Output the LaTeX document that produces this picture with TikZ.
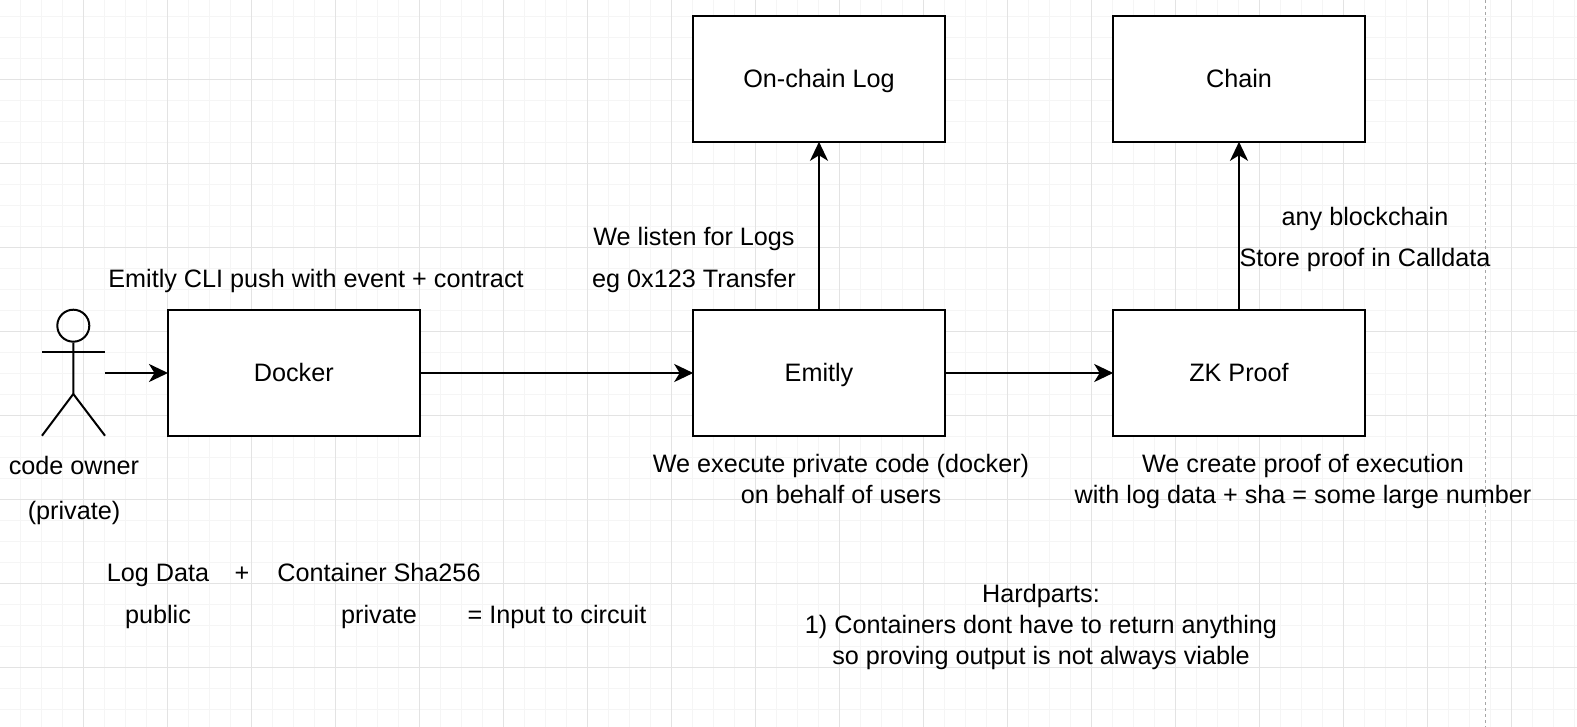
\documentclass[tikz,border=0pt]{standalone}
\usepackage{fontspec}
\setmainfont{Liberation Sans}
\usetikzlibrary{arrows.meta,positioning}

\begin{document}
\begin{tikzpicture}[
        x=1pt,
        y=-1pt,
        wire/.style={line width=2.6pt, shorten >=-1.5pt, -{Stealth[length=19pt, width=18pt, inset=5.5pt]}},
        stick/.style={line width=2pt},
        box/.style={draw, fill=white, line width=2.6pt, minimum width=252pt, minimum height=126pt, inner sep=0pt, text height=19.5pt, text depth=2.5pt, font=\fontsize{25.2}{28}\selectfont},
        lab/.style={inner sep=0pt, align=center, text height=17pt, text depth=5pt, font=\fontsize{25.2}{28}\selectfont},
        para/.style={inner sep=0pt, align=center, font=\fontsize{25.2}{31}\selectfont}
    ]
        \useasboundingbox (0,0) rectangle (1577,727);
        \fill[white] (0,0) rectangle (1577,727);
        % grid
        \foreach \x in {20.5,41.5,...,1577}{
            \draw[line width=1pt, black!4] (\x,0) -- (\x,727);
        }
        \foreach \y in {16.3,37.3,...,727}{
            \draw[line width=1pt, black!4] (0,\y) -- (1577,\y);
        }
        \foreach \x in {83.5,167.5,...,1577}{
            \draw[line width=1pt, black!11] (\x,0) -- (\x,727);
        }
        \foreach \y in {79.3,163.3,...,727}{
            \draw[line width=1pt, black!11] (0,\y) -- (1577,\y);
        }
        \draw[line width=1pt, black!35, dash pattern=on 3pt off 3pt] (1485.7,0) -- (1485.7,727);

        % boxes
        \node[box] (docker) at (293.8,373) {Docker};
        \node[box] (emitly) at (819,373) {Emitly};
        \node[box] (zkproof) at (1239,373) {ZK Proof};
        \node[box] (log) at (819,79) {On-chain Log};
        \node[box] (chain) at (1239,79) {Chain};

        % code owner
        \node[draw, circle, line width=2pt, minimum size=32pt, inner sep=0pt] (head) at (73.3,325.7) {};
        \coordinate (hip) at (73.3,394);
        \coordinate (armL) at (42,351.7);
        \coordinate (armR) at (105,351.7);
        \coordinate (legL) at (42,435.7);
        \coordinate (legR) at (105,435.7);
        \coordinate (owner) at (105,373);
        \draw[stick] (head) -- (hip) -- (legL);
        \draw[stick] (hip) -- (legR);
        \draw[stick] (armL) -- (armR);

        % arrows
        \draw[wire] (owner) -- (docker);
        \draw[wire] (docker) -- (emitly);
        \draw[wire] (emitly) -- (zkproof);
        \draw[wire] (emitly) -- (log);
        \draw[wire] (zkproof) -- (chain);

        % labels
        \foreach \x/\y/\lab in {
            74/468/code owner,
            74/513/(private),
            316/282/Emitly CLI push with event + contract,
            694/240/We listen for Logs,
            694/282/eg 0x123 Transfer,
            1365/219.5/any blockchain,
            1365/261/Store proof in Calldata,
            158/575/Log Data,
            242/575/+,
            379/575/Container Sha256,
            158/617/public,
            379/617/private,
            557/617/= Input to circuit}{
            \node[lab] at (\x,\y) {\lab};
        }
        \node[para] (execute) at (841,479) {We execute private code (docker)\\on behalf of users};
        \node[para] (create) at (1303,481) {We create proof of execution\\with log data + sha = some large number};
        \node[para] (hard) at (1041,627) {Hardparts:\\1) Containers dont have to return anything\\so proving output is not always viable};
    \end{tikzpicture}
\end{document}
